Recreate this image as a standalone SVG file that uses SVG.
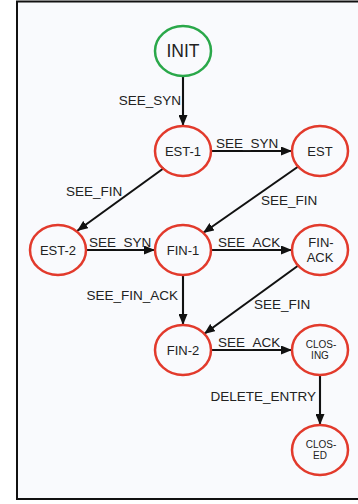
<svg xmlns="http://www.w3.org/2000/svg" width="358" height="504" viewBox="0 0 358 504">
  <style>
    .node ellipse { fill: none; stroke: #e23a2c; stroke-width: 2.5; }
    .node.start ellipse { stroke: #2aa84a; }
    text { font-family: "Liberation Sans", Arial, sans-serif; fill: #222; }
    .nl { font-size: 13px; text-anchor: middle; }
    .big { font-size: 17.5px; }
    .sm { font-size: 10px; }
    .el { font-size: 13.5px; }
    #edges line { stroke: #111; stroke-width: 2.1; marker-end: url(#arr); }
  </style>
  <defs>
    <marker id="arr" markerUnits="userSpaceOnUse" markerWidth="11" markerHeight="9" refX="11" refY="4.5" orient="auto">
      <path d="M0,0 L11,4.5 L0,9 z" fill="#111"/>
    </marker>
  </defs>
  <rect x="0" y="0" width="358" height="504" fill="#ffffff"/>
  <rect x="17" y="1.5" width="350" height="497.5" fill="#f9fafd" stroke="#111" stroke-width="2"/>

  <g id="edges">
    <line x1="183" y1="76" x2="183" y2="126"/>
    <line x1="211" y1="151" x2="292" y2="151"/>
    <line x1="164" y1="168" x2="77" y2="231"/>
    <line x1="299" y1="166" x2="203" y2="233"/>
    <line x1="86" y1="250" x2="155" y2="250"/>
    <line x1="211" y1="250" x2="292" y2="250"/>
    <line x1="183" y1="275" x2="183" y2="325"/>
    <line x1="299" y1="265" x2="204" y2="334"/>
    <line x1="211" y1="350" x2="292" y2="350"/>
    <line x1="320" y1="375" x2="320" y2="425"/>
    <text class="el" x="181" y="105" text-anchor="end">SEE_SYN</text>
    <text class="el" x="216" y="148">SEE_SYN</text>
    <text class="el" x="66" y="196">SEE_FIN</text>
    <text class="el" x="261" y="205">SEE_FIN</text>
    <text class="el" x="89" y="247">SEE_SYN</text>
    <text class="el" x="218" y="247">SEE_ACK</text>
    <text class="el" x="178" y="300" text-anchor="end">SEE_FIN_ACK</text>
    <text class="el" x="254" y="309">SEE_FIN</text>
    <text class="el" x="218" y="347">SEE_ACK</text>
    <text class="el" x="316" y="401" text-anchor="end">DELETE_ENTRY</text>
  </g>

  <g id="INIT" class="node start">
    <ellipse cx="183" cy="51" rx="28" ry="25"/>
    <text class="nl big" x="183" y="57">INIT</text>
  </g>
  <g id="EST-1" class="node">
    <ellipse cx="183" cy="151" rx="28" ry="25"/>
    <text class="nl" x="183" y="156">EST-1</text>
  </g>
  <g id="EST" class="node">
    <ellipse cx="320" cy="151" rx="28" ry="25"/>
    <text class="nl" x="320" y="156">EST</text>
  </g>
  <g id="EST-2" class="node">
    <ellipse cx="58" cy="250" rx="28" ry="25"/>
    <text class="nl" x="58" y="255">EST-2</text>
  </g>
  <g id="FIN-1" class="node">
    <ellipse cx="183" cy="250" rx="28" ry="25"/>
    <text class="nl" x="183" y="255">FIN-1</text>
  </g>
  <g id="FIN-ACK" class="node">
    <ellipse cx="320" cy="250" rx="28" ry="25"/>
    <text class="nl" x="321" y="247">FIN-</text>
    <text class="nl" x="320" y="262">ACK</text>
  </g>
  <g id="FIN-2" class="node">
    <ellipse cx="183" cy="350" rx="28" ry="25"/>
    <text class="nl" x="183" y="355">FIN-2</text>
  </g>
  <g id="CLOSING" class="node">
    <ellipse cx="320" cy="350" rx="28" ry="25"/>
    <text class="nl sm" x="321" y="348">CLOS-</text>
    <text class="nl sm" x="320" y="359">ING</text>
  </g>
  <g id="CLOSED" class="node">
    <ellipse cx="320" cy="450" rx="28" ry="25"/>
    <text class="nl sm" x="321" y="448">CLOS-</text>
    <text class="nl sm" x="320" y="459">ED</text>
  </g>
</svg>
